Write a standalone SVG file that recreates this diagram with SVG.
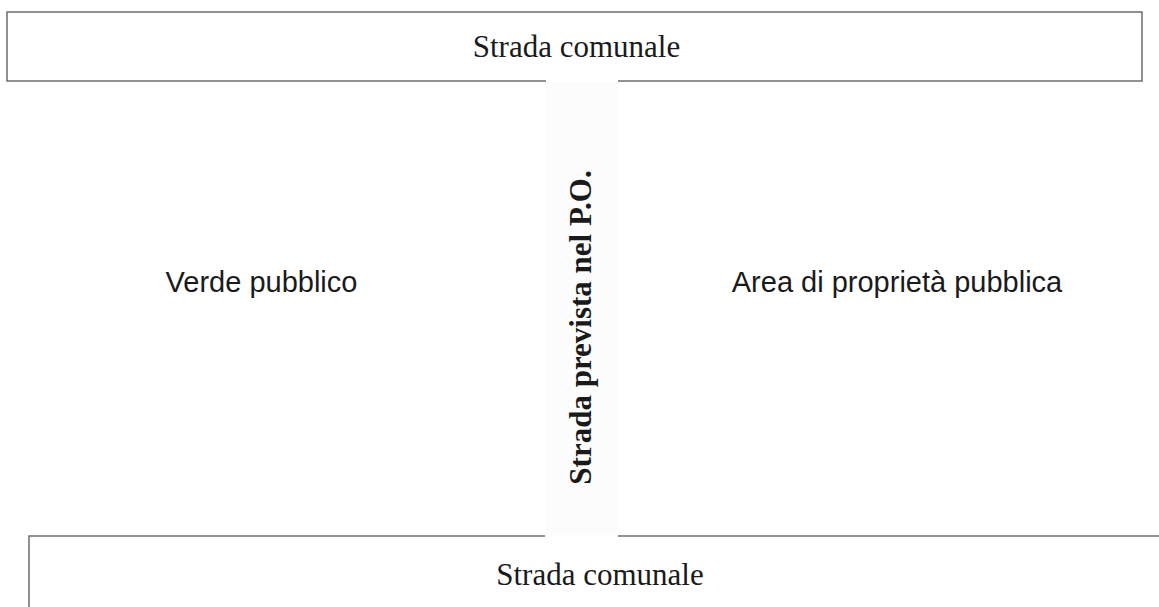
<svg xmlns="http://www.w3.org/2000/svg" width="1159" height="607" viewBox="0 0 1159 607">
  <style>
    .edge { fill: none; stroke: #6e6e6e; stroke-width: 1.5; }
    .serif { font-family: "Liberation Serif", "Times New Roman", serif; fill: #1a1a1a; }
    .sans { font-family: "Liberation Sans", Arial, sans-serif; fill: #1a1a1a; font-size: 29px; }
  </style>
  <rect x="0" y="0" width="1159" height="607" fill="#ffffff"/>
  <g id="strada-comunale-top">
    <path class="edge" d="M546,81 L7,81 L7,12 L1142,12 L1142,81 L618,81"/>
    <text class="serif" x="576.5" y="57" font-size="31" text-anchor="middle">Strada comunale</text>
  </g>
  <g id="strada-prevista">
    <rect x="546" y="82" width="72" height="453" fill="#fcfcfc"/>
    <text class="serif" transform="translate(591,327.5) rotate(-90)" font-size="31" font-weight="bold" text-anchor="middle">Strada prevista nel P.O.</text>
  </g>
  <g id="verde-pubblico">
    <text class="sans" x="261.5" y="292" text-anchor="middle">Verde pubblico</text>
  </g>
  <g id="area-proprieta-pubblica">
    <text class="sans" x="897" y="292" text-anchor="middle">Area di proprietà pubblica</text>
  </g>
  <g id="strada-comunale-bottom">
    <path class="edge" d="M29,607 L29,536 L545,536 M618,536 L1159,536"/>
    <text class="serif" x="600" y="585" font-size="31" text-anchor="middle">Strada comunale</text>
  </g>
  <g id="connectors"></g>
</svg>
